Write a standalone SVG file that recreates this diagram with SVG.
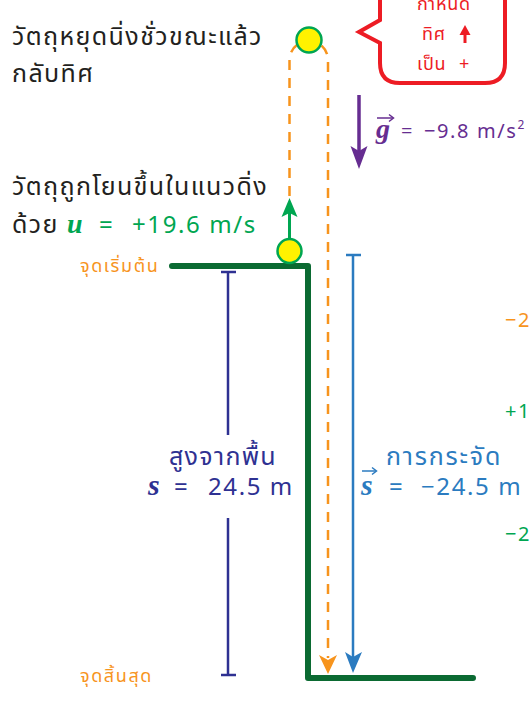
<svg xmlns="http://www.w3.org/2000/svg" width="530" height="703" viewBox="0 0 530 703">
<style>
.t{font-family:"Noto Sans","Noto Sans Thai","Liberation Sans",sans-serif;}
.blk{fill:#231f20;font-size:25px;letter-spacing:1.4px;}
.or{fill:#f7941d;font-size:18px;letter-spacing:1.6px;}
.nv{fill:#2e3192;}
.bl{fill:#2b7bc0;}
.gr{fill:#00a651;}
.pu{fill:#662d91;}
.rd{fill:#ed1c24;font-size:18px;letter-spacing:0.8px;}
.num{letter-spacing:1.6px;}
.sym{font-family:"Liberation Serif","DejaVu Serif",serif;font-style:italic;font-weight:bold;}
.dash{fill:none;stroke:#f7941d;stroke-width:2.5;stroke-dasharray:10 8;}
.ball{fill:#fff200;stroke:#00a651;stroke-width:2.5;}
</style>
<rect width="530" height="703" fill="#fff"/>

<g id="callout">
<path d="M400,-30 H485 Q505,-30 505,-10 V63 Q505,83 485,83 H400 Q380,83 380,63 V43 L359,32 L380,20 V-10 Q380,-30 400,-30 Z" fill="#fff" stroke="#ed1c24" stroke-width="4" stroke-linejoin="miter"/>
<text class="t rd" x="444" y="10" text-anchor="middle">กำหนด</text>
<text class="t rd" x="422" y="40">ทิศ</text>
<line x1="465" y1="43" x2="465" y2="33" stroke="#ed1c24" stroke-width="3"/>
<polygon points="465,25 459.5,35 470.5,35" fill="#ed1c24"/>
<text class="t rd" x="417" y="70">เป็น<tspan x="459">+</tspan></text>
</g>

<g id="connectors">
<path class="dash" d="M289.5,250 V60 A19.25,19.25 0 0 1 328,60 V658"/>
<polygon points="319,655 328,660 337,655 328,674" fill="#f7941d"/>
<path d="M172,266 H308 V678 H473" fill="none" stroke="#0b6a32" stroke-width="6" stroke-linecap="round" stroke-linejoin="round"/>
<g stroke="#2e3192" stroke-width="2.5">
<line x1="228" y1="272" x2="228" y2="435"/>
<line x1="228" y1="518" x2="228" y2="675"/>
<line x1="221" y1="272" x2="236" y2="272"/>
<line x1="221" y1="675" x2="236" y2="675"/>
</g>
<g stroke="#2b7bc0" stroke-width="2.5">
<line x1="353" y1="255" x2="353" y2="658"/>
<line x1="346" y1="255" x2="361" y2="255"/>
</g>
<polygon points="345,652 353,657 362,652 353,673" fill="#2b7bc0"/>
<line x1="289.5" y1="240" x2="289.5" y2="212" stroke="#00a651" stroke-width="3"/>
<polygon points="289.5,198 281.5,217 289.5,213 297.5,217" fill="#00a651"/>
<line x1="359" y1="95" x2="359" y2="152" stroke="#662d91" stroke-width="3.5"/>
<polygon points="350.5,146 359,151 367.5,146 359,169" fill="#662d91"/>
</g>

<g id="ball-top"><circle class="ball" cx="309" cy="40" r="12.5"/></g>
<g id="ball-start"><circle class="ball" cx="289.5" cy="251" r="12"/></g>

<g id="label-stop">
<text class="t blk" x="12" y="45">วัตถุหยุดนิ่งชั่วขณะแล้ว</text>
<text class="t blk" x="12" y="82">กลับทิศ</text>
</g>

<g id="label-throw">
<text class="t blk" x="12" y="195">วัตถุถูกโยนขึ้นในแนวดิ่ง</text>
<text class="t blk" x="12" y="233">ด้วย</text>
<text class="sym gr" x="67" y="233" font-size="28">u</text>
<text class="t gr" x="99" y="233" font-size="24">=</text>
<text class="t gr num" x="132" y="233" font-size="24">+19.6 m/s</text>
</g>

<g id="label-g">
<text class="sym pu" x="376" y="138" font-size="28" font-weight="normal">g</text>
<line x1="377" y1="118" x2="393" y2="118" stroke="#662d91" stroke-width="1.5"/>
<polyline points="389,114.5 393.5,118 389,121.5" fill="none" stroke="#662d91" stroke-width="1.5"/>
<text class="t pu" x="401" y="138" font-size="20">=</text>
<text class="t pu num" x="424" y="138" font-size="20">−9.8 m/s<tspan font-size="12" dy="-9">2</tspan></text>
</g>

<g id="label-start"><text class="t or" x="80" y="272">จุดเริ่มต้น</text></g>
<g id="label-end"><text class="t or" x="80" y="682">จุดสิ้นสุด</text></g>

<g id="label-height">
<text class="t nv" x="223" y="465" font-size="25" letter-spacing="1.3" text-anchor="middle">สูงจากพื้น</text>
<text class="sym nv" x="148" y="495" font-size="30">s</text>
<text class="t nv" x="174" y="495" font-size="24">=</text>
<text class="t nv num" x="208" y="495" font-size="24">24.5 m</text>
</g>

<g id="label-disp">
<text class="t bl" x="386" y="465" font-size="25" letter-spacing="1.8">การกระจัด</text>
<text class="sym bl" x="361" y="495" font-size="30" font-weight="normal">s</text>
<line x1="362" y1="471" x2="376" y2="471" stroke="#2b7bc0" stroke-width="1.5"/>
<polyline points="372,467.5 376.5,471 372,474.5" fill="none" stroke="#2b7bc0" stroke-width="1.5"/>
<text class="t bl" x="389" y="495" font-size="24">=</text>
<text class="t bl num" x="421" y="495" font-size="24">−24.5 m</text>
</g>

<g id="label-right">
<text class="t num" x="505" y="327" font-size="20" fill="#f7941d">−24.5 m</text>
<text class="t gr num" x="505" y="418" font-size="20">+19.6 m/s</text>
<text class="t gr num" x="505" y="541" font-size="20">−29.4 m/s</text>
</g>
</svg>
